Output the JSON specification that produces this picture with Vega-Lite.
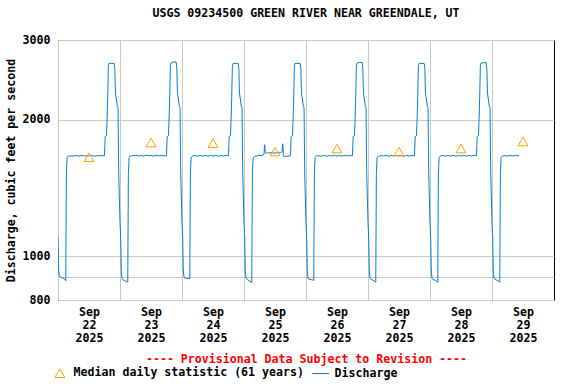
{
  "$schema": "https://vega.github.io/schema/vega-lite/v6.json",
  "width": 496,
  "height": 260,
  "autosize": "none",
  "padding": {"left": 58, "top": 40, "right": 22, "bottom": 84},
  "background": "#ffffff",
  "title": {"text": "USGS 09234500 GREEN RIVER NEAR GREENDALE, UT", "anchor": "middle", "frame": "group", "offset": 14, "font": "DejaVu Sans Mono", "fontSize": 11.6, "fontWeight": "bold", "color": "#000"},
  "config": {
    "font": "DejaVu Sans Mono",
    "view": {"stroke": "#000", "strokeWidth": 1},
    "axis": {"labelFont": "DejaVu Sans Mono", "labelFontSize": 11.6, "labelFontWeight": "bold", "labelColor": "#000", "titleFont": "DejaVu Sans Mono", "titleFontSize": 11.6, "titleFontWeight": "bold", "titleColor": "#000", "gridColor": "#c8c8c8", "gridWidth": 1, "gridOpacity": 1, "ticks": false, "domain": false},
    "legend": {"labelFont": "DejaVu Sans Mono", "labelFontSize": 11.6, "labelFontWeight": "bold", "labelColor": "#000", "labelLimit": 0}
  },
  "datasets": {
    "flow": [
      {"time": "2025-09-22T00:00", "cfs": 1104}, {"time": "2025-09-22T00:15", "cfs": 932}, {"time": "2025-09-22T00:30", "cfs": 905}, {"time": "2025-09-22T00:45", "cfs": 900},
      {"time": "2025-09-22T01:00", "cfs": 899}, {"time": "2025-09-22T02:00", "cfs": 895}, {"time": "2025-09-22T02:30", "cfs": 890}, {"time": "2025-09-22T03:00", "cfs": 882},
      {"time": "2025-09-22T03:15", "cfs": 1520}, {"time": "2025-09-22T03:30", "cfs": 1645}, {"time": "2025-09-22T03:45", "cfs": 1658}, {"time": "2025-09-22T04:00", "cfs": 1662},
      {"time": "2025-09-22T05:00", "cfs": 1665}, {"time": "2025-09-22T06:00", "cfs": 1663}, {"time": "2025-09-22T07:00", "cfs": 1667}, {"time": "2025-09-22T08:00", "cfs": 1662},
      {"time": "2025-09-22T09:00", "cfs": 1668}, {"time": "2025-09-22T10:00", "cfs": 1664}, {"time": "2025-09-22T11:00", "cfs": 1667}, {"time": "2025-09-22T12:00", "cfs": 1663},
      {"time": "2025-09-22T13:00", "cfs": 1668}, {"time": "2025-09-22T14:00", "cfs": 1662}, {"time": "2025-09-22T15:00", "cfs": 1667}, {"time": "2025-09-22T16:00", "cfs": 1664},
      {"time": "2025-09-22T17:00", "cfs": 1668}, {"time": "2025-09-22T18:00", "cfs": 1665}, {"time": "2025-09-22T18:15", "cfs": 1835}, {"time": "2025-09-22T18:45", "cfs": 1842},
      {"time": "2025-09-22T19:00", "cfs": 2000}, {"time": "2025-09-22T19:15", "cfs": 2250}, {"time": "2025-09-22T19:30", "cfs": 2630}, {"time": "2025-09-22T19:45", "cfs": 2662},
      {"time": "2025-09-22T20:30", "cfs": 2665}, {"time": "2025-09-22T21:45", "cfs": 2662}, {"time": "2025-09-22T22:00", "cfs": 2600}, {"time": "2025-09-22T22:15", "cfs": 2290},
      {"time": "2025-09-22T23:00", "cfs": 2137}, {"time": "2025-09-22T23:15", "cfs": 2125}, {"time": "2025-09-22T23:30", "cfs": 1523}, {"time": "2025-09-22T23:45", "cfs": 1350},

      {"time": "2025-09-23T00:00", "cfs": 1181}, {"time": "2025-09-23T00:15", "cfs": 1104}, {"time": "2025-09-23T00:30", "cfs": 932}, {"time": "2025-09-23T00:45", "cfs": 893},
      {"time": "2025-09-23T01:00", "cfs": 888}, {"time": "2025-09-23T02:00", "cfs": 882}, {"time": "2025-09-23T02:45", "cfs": 878}, {"time": "2025-09-23T03:00", "cfs": 877},
      {"time": "2025-09-23T03:15", "cfs": 1520}, {"time": "2025-09-23T03:30", "cfs": 1645}, {"time": "2025-09-23T03:45", "cfs": 1658}, {"time": "2025-09-23T04:00", "cfs": 1663},
      {"time": "2025-09-23T05:00", "cfs": 1666}, {"time": "2025-09-23T06:00", "cfs": 1670}, {"time": "2025-09-23T07:00", "cfs": 1664}, {"time": "2025-09-23T08:00", "cfs": 1668},
      {"time": "2025-09-23T09:00", "cfs": 1663}, {"time": "2025-09-23T10:00", "cfs": 1670}, {"time": "2025-09-23T11:00", "cfs": 1665}, {"time": "2025-09-23T12:00", "cfs": 1668},
      {"time": "2025-09-23T13:00", "cfs": 1663}, {"time": "2025-09-23T14:00", "cfs": 1669}, {"time": "2025-09-23T15:00", "cfs": 1665}, {"time": "2025-09-23T16:00", "cfs": 1668},
      {"time": "2025-09-23T17:00", "cfs": 1664}, {"time": "2025-09-23T18:00", "cfs": 1666}, {"time": "2025-09-23T18:15", "cfs": 1835}, {"time": "2025-09-23T18:45", "cfs": 1845},
      {"time": "2025-09-23T19:00", "cfs": 2010}, {"time": "2025-09-23T19:15", "cfs": 2260}, {"time": "2025-09-23T19:30", "cfs": 2640}, {"time": "2025-09-23T19:45", "cfs": 2670},
      {"time": "2025-09-23T20:45", "cfs": 2685}, {"time": "2025-09-23T21:45", "cfs": 2680}, {"time": "2025-09-23T22:00", "cfs": 2600}, {"time": "2025-09-23T22:15", "cfs": 2295},
      {"time": "2025-09-23T23:00", "cfs": 2140}, {"time": "2025-09-23T23:15", "cfs": 2125}, {"time": "2025-09-23T23:30", "cfs": 1523}, {"time": "2025-09-23T23:45", "cfs": 1350},

      {"time": "2025-09-24T00:00", "cfs": 1181}, {"time": "2025-09-24T00:15", "cfs": 1104}, {"time": "2025-09-24T00:30", "cfs": 932}, {"time": "2025-09-24T00:45", "cfs": 900},
      {"time": "2025-09-24T01:00", "cfs": 895}, {"time": "2025-09-24T02:00", "cfs": 893}, {"time": "2025-09-24T02:45", "cfs": 893}, {"time": "2025-09-24T03:00", "cfs": 892},
      {"time": "2025-09-24T03:15", "cfs": 1520}, {"time": "2025-09-24T03:30", "cfs": 1645}, {"time": "2025-09-24T03:45", "cfs": 1657}, {"time": "2025-09-24T04:00", "cfs": 1662},
      {"time": "2025-09-24T05:00", "cfs": 1667}, {"time": "2025-09-24T06:00", "cfs": 1662}, {"time": "2025-09-24T07:00", "cfs": 1668}, {"time": "2025-09-24T08:00", "cfs": 1663},
      {"time": "2025-09-24T09:00", "cfs": 1669}, {"time": "2025-09-24T10:00", "cfs": 1662}, {"time": "2025-09-24T11:00", "cfs": 1668}, {"time": "2025-09-24T12:00", "cfs": 1663},
      {"time": "2025-09-24T13:00", "cfs": 1669}, {"time": "2025-09-24T14:00", "cfs": 1662}, {"time": "2025-09-24T15:00", "cfs": 1668}, {"time": "2025-09-24T16:00", "cfs": 1663},
      {"time": "2025-09-24T17:00", "cfs": 1669}, {"time": "2025-09-24T18:00", "cfs": 1665}, {"time": "2025-09-24T18:15", "cfs": 1835}, {"time": "2025-09-24T18:45", "cfs": 1842},
      {"time": "2025-09-24T19:00", "cfs": 2000}, {"time": "2025-09-24T19:15", "cfs": 2250}, {"time": "2025-09-24T19:30", "cfs": 2630}, {"time": "2025-09-24T19:45", "cfs": 2662},
      {"time": "2025-09-24T20:30", "cfs": 2666}, {"time": "2025-09-24T21:45", "cfs": 2662}, {"time": "2025-09-24T22:00", "cfs": 2600}, {"time": "2025-09-24T22:15", "cfs": 2290},
      {"time": "2025-09-24T23:00", "cfs": 2137}, {"time": "2025-09-24T23:15", "cfs": 2125}, {"time": "2025-09-24T23:30", "cfs": 1523}, {"time": "2025-09-24T23:45", "cfs": 1350},

      {"time": "2025-09-25T00:00", "cfs": 1181}, {"time": "2025-09-25T00:15", "cfs": 1104}, {"time": "2025-09-25T00:30", "cfs": 932}, {"time": "2025-09-25T00:45", "cfs": 895},
      {"time": "2025-09-25T01:00", "cfs": 890}, {"time": "2025-09-25T02:00", "cfs": 882}, {"time": "2025-09-25T02:45", "cfs": 876}, {"time": "2025-09-25T03:00", "cfs": 874},
      {"time": "2025-09-25T03:15", "cfs": 1520}, {"time": "2025-09-25T03:30", "cfs": 1640}, {"time": "2025-09-25T03:45", "cfs": 1655}, {"time": "2025-09-25T04:00", "cfs": 1660},
      {"time": "2025-09-25T05:00", "cfs": 1665}, {"time": "2025-09-25T06:00", "cfs": 1668}, {"time": "2025-09-25T07:00", "cfs": 1666}, {"time": "2025-09-25T07:45", "cfs": 1680},
      {"time": "2025-09-25T08:00", "cfs": 1761}, {"time": "2025-09-25T08:15", "cfs": 1690}, {"time": "2025-09-25T09:00", "cfs": 1688}, {"time": "2025-09-25T10:00", "cfs": 1692},
      {"time": "2025-09-25T11:00", "cfs": 1690}, {"time": "2025-09-25T12:00", "cfs": 1688}, {"time": "2025-09-25T13:00", "cfs": 1692}, {"time": "2025-09-25T14:00", "cfs": 1690},
      {"time": "2025-09-25T14:45", "cfs": 1700}, {"time": "2025-09-25T15:00", "cfs": 1770}, {"time": "2025-09-25T15:15", "cfs": 1665}, {"time": "2025-09-25T16:00", "cfs": 1660},
      {"time": "2025-09-25T17:00", "cfs": 1662}, {"time": "2025-09-25T18:00", "cfs": 1665}, {"time": "2025-09-25T18:15", "cfs": 1835}, {"time": "2025-09-25T18:45", "cfs": 1842},
      {"time": "2025-09-25T19:00", "cfs": 2000}, {"time": "2025-09-25T19:15", "cfs": 2250}, {"time": "2025-09-25T19:30", "cfs": 2630}, {"time": "2025-09-25T19:45", "cfs": 2662},
      {"time": "2025-09-25T20:30", "cfs": 2665}, {"time": "2025-09-25T21:45", "cfs": 2662}, {"time": "2025-09-25T22:00", "cfs": 2600}, {"time": "2025-09-25T22:15", "cfs": 2290},
      {"time": "2025-09-25T23:00", "cfs": 2137}, {"time": "2025-09-25T23:15", "cfs": 2125}, {"time": "2025-09-25T23:30", "cfs": 1523}, {"time": "2025-09-25T23:45", "cfs": 1350},

      {"time": "2025-09-26T00:00", "cfs": 1181}, {"time": "2025-09-26T00:15", "cfs": 1104}, {"time": "2025-09-26T00:30", "cfs": 932}, {"time": "2025-09-26T00:45", "cfs": 895},
      {"time": "2025-09-26T01:00", "cfs": 890}, {"time": "2025-09-26T02:00", "cfs": 887}, {"time": "2025-09-26T02:45", "cfs": 885}, {"time": "2025-09-26T03:00", "cfs": 884},
      {"time": "2025-09-26T03:15", "cfs": 1520}, {"time": "2025-09-26T03:30", "cfs": 1645}, {"time": "2025-09-26T03:45", "cfs": 1658}, {"time": "2025-09-26T04:00", "cfs": 1663},
      {"time": "2025-09-26T05:00", "cfs": 1666}, {"time": "2025-09-26T06:00", "cfs": 1662}, {"time": "2025-09-26T07:00", "cfs": 1668}, {"time": "2025-09-26T08:00", "cfs": 1660},
      {"time": "2025-09-26T09:00", "cfs": 1668}, {"time": "2025-09-26T10:00", "cfs": 1663}, {"time": "2025-09-26T11:00", "cfs": 1669}, {"time": "2025-09-26T12:00", "cfs": 1662},
      {"time": "2025-09-26T13:00", "cfs": 1668}, {"time": "2025-09-26T14:00", "cfs": 1663}, {"time": "2025-09-26T15:00", "cfs": 1669}, {"time": "2025-09-26T16:00", "cfs": 1664},
      {"time": "2025-09-26T17:00", "cfs": 1667}, {"time": "2025-09-26T18:00", "cfs": 1665}, {"time": "2025-09-26T18:15", "cfs": 1835}, {"time": "2025-09-26T18:45", "cfs": 1845},
      {"time": "2025-09-26T19:00", "cfs": 2005}, {"time": "2025-09-26T19:15", "cfs": 2255}, {"time": "2025-09-26T19:30", "cfs": 2640}, {"time": "2025-09-26T19:45", "cfs": 2668},
      {"time": "2025-09-26T20:45", "cfs": 2678}, {"time": "2025-09-26T21:45", "cfs": 2675}, {"time": "2025-09-26T22:00", "cfs": 2600}, {"time": "2025-09-26T22:15", "cfs": 2290},
      {"time": "2025-09-26T23:00", "cfs": 2137}, {"time": "2025-09-26T23:15", "cfs": 2125}, {"time": "2025-09-26T23:30", "cfs": 1523}, {"time": "2025-09-26T23:45", "cfs": 1350},

      {"time": "2025-09-27T00:00", "cfs": 1181}, {"time": "2025-09-27T00:15", "cfs": 1104}, {"time": "2025-09-27T00:30", "cfs": 932}, {"time": "2025-09-27T00:45", "cfs": 895},
      {"time": "2025-09-27T01:00", "cfs": 890}, {"time": "2025-09-27T02:00", "cfs": 884}, {"time": "2025-09-27T02:45", "cfs": 878}, {"time": "2025-09-27T03:00", "cfs": 876},
      {"time": "2025-09-27T03:15", "cfs": 1520}, {"time": "2025-09-27T03:30", "cfs": 1645}, {"time": "2025-09-27T03:45", "cfs": 1658}, {"time": "2025-09-27T04:00", "cfs": 1662},
      {"time": "2025-09-27T05:00", "cfs": 1667}, {"time": "2025-09-27T06:00", "cfs": 1663}, {"time": "2025-09-27T07:00", "cfs": 1668}, {"time": "2025-09-27T08:00", "cfs": 1662},
      {"time": "2025-09-27T09:00", "cfs": 1667}, {"time": "2025-09-27T10:00", "cfs": 1664}, {"time": "2025-09-27T11:00", "cfs": 1668}, {"time": "2025-09-27T12:00", "cfs": 1663},
      {"time": "2025-09-27T13:00", "cfs": 1667}, {"time": "2025-09-27T14:00", "cfs": 1662}, {"time": "2025-09-27T15:00", "cfs": 1668}, {"time": "2025-09-27T16:00", "cfs": 1664},
      {"time": "2025-09-27T17:00", "cfs": 1667}, {"time": "2025-09-27T18:00", "cfs": 1665}, {"time": "2025-09-27T18:15", "cfs": 1835}, {"time": "2025-09-27T18:45", "cfs": 1842},
      {"time": "2025-09-27T19:00", "cfs": 2000}, {"time": "2025-09-27T19:15", "cfs": 2250}, {"time": "2025-09-27T19:30", "cfs": 2630}, {"time": "2025-09-27T19:45", "cfs": 2662},
      {"time": "2025-09-27T20:30", "cfs": 2665}, {"time": "2025-09-27T21:45", "cfs": 2662}, {"time": "2025-09-27T22:00", "cfs": 2600}, {"time": "2025-09-27T22:15", "cfs": 2290},
      {"time": "2025-09-27T23:00", "cfs": 2137}, {"time": "2025-09-27T23:15", "cfs": 2125}, {"time": "2025-09-27T23:30", "cfs": 1523}, {"time": "2025-09-27T23:45", "cfs": 1350},

      {"time": "2025-09-28T00:00", "cfs": 1181}, {"time": "2025-09-28T00:15", "cfs": 1104}, {"time": "2025-09-28T00:30", "cfs": 932}, {"time": "2025-09-28T00:45", "cfs": 895},
      {"time": "2025-09-28T01:00", "cfs": 890}, {"time": "2025-09-28T02:00", "cfs": 884}, {"time": "2025-09-28T02:45", "cfs": 878}, {"time": "2025-09-28T03:00", "cfs": 876},
      {"time": "2025-09-28T03:15", "cfs": 1520}, {"time": "2025-09-28T03:30", "cfs": 1645}, {"time": "2025-09-28T03:45", "cfs": 1658}, {"time": "2025-09-28T04:00", "cfs": 1663},
      {"time": "2025-09-28T05:00", "cfs": 1667}, {"time": "2025-09-28T06:00", "cfs": 1662}, {"time": "2025-09-28T07:00", "cfs": 1668}, {"time": "2025-09-28T08:00", "cfs": 1663},
      {"time": "2025-09-28T09:00", "cfs": 1669}, {"time": "2025-09-28T10:00", "cfs": 1662}, {"time": "2025-09-28T11:00", "cfs": 1668}, {"time": "2025-09-28T12:00", "cfs": 1664},
      {"time": "2025-09-28T13:00", "cfs": 1668}, {"time": "2025-09-28T14:00", "cfs": 1662}, {"time": "2025-09-28T15:00", "cfs": 1669}, {"time": "2025-09-28T16:00", "cfs": 1663},
      {"time": "2025-09-28T17:00", "cfs": 1668}, {"time": "2025-09-28T18:00", "cfs": 1665}, {"time": "2025-09-28T18:15", "cfs": 1835}, {"time": "2025-09-28T18:45", "cfs": 1845},
      {"time": "2025-09-28T19:00", "cfs": 2005}, {"time": "2025-09-28T19:15", "cfs": 2255}, {"time": "2025-09-28T19:30", "cfs": 2640}, {"time": "2025-09-28T19:45", "cfs": 2668},
      {"time": "2025-09-28T20:45", "cfs": 2672}, {"time": "2025-09-28T21:45", "cfs": 2675}, {"time": "2025-09-28T22:00", "cfs": 2600}, {"time": "2025-09-28T22:15", "cfs": 2290},
      {"time": "2025-09-28T23:00", "cfs": 2137}, {"time": "2025-09-28T23:15", "cfs": 2125}, {"time": "2025-09-28T23:30", "cfs": 1523}, {"time": "2025-09-28T23:45", "cfs": 1350},

      {"time": "2025-09-29T00:00", "cfs": 1181}, {"time": "2025-09-29T00:15", "cfs": 1104}, {"time": "2025-09-29T00:30", "cfs": 932}, {"time": "2025-09-29T00:45", "cfs": 895},
      {"time": "2025-09-29T01:00", "cfs": 890}, {"time": "2025-09-29T02:00", "cfs": 884}, {"time": "2025-09-29T02:45", "cfs": 878}, {"time": "2025-09-29T03:00", "cfs": 876},
      {"time": "2025-09-29T03:15", "cfs": 1520}, {"time": "2025-09-29T03:30", "cfs": 1645}, {"time": "2025-09-29T03:45", "cfs": 1658}, {"time": "2025-09-29T04:00", "cfs": 1663},
      {"time": "2025-09-29T05:00", "cfs": 1667}, {"time": "2025-09-29T06:00", "cfs": 1663}, {"time": "2025-09-29T07:00", "cfs": 1668}, {"time": "2025-09-29T08:00", "cfs": 1664},
      {"time": "2025-09-29T09:00", "cfs": 1668}, {"time": "2025-09-29T10:00", "cfs": 1665}, {"time": "2025-09-29T10:30", "cfs": 1670}
    ],
    "median": [
      {"time": "2025-09-22T12:00", "cfs": 1653},
      {"time": "2025-09-23T12:00", "cfs": 1782},
      {"time": "2025-09-24T12:00", "cfs": 1775},
      {"time": "2025-09-25T12:00", "cfs": 1702},
      {"time": "2025-09-26T12:00", "cfs": 1728},
      {"time": "2025-09-27T12:00", "cfs": 1702},
      {"time": "2025-09-28T12:00", "cfs": 1728},
      {"time": "2025-09-29T12:00", "cfs": 1791}
    ]
  },
  "encoding": {
    "x": {
      "field": "time", "type": "temporal",
      "scale": {"domain": [{"year": 2025, "month": "sep", "date": 22}, {"year": 2025, "month": "sep", "date": 30}], "nice": false},
      "axis": {
        "title": "---- Provisional Data Subject to Revision ----",
        "titleColor": "#ff0000",
        "titlePadding": 10,
        "values": [
          {"year": 2025, "month": "sep", "date": 22}, {"year": 2025, "month": "sep", "date": 23},
          {"year": 2025, "month": "sep", "date": 24}, {"year": 2025, "month": "sep", "date": 25},
          {"year": 2025, "month": "sep", "date": 26}, {"year": 2025, "month": "sep", "date": 27},
          {"year": 2025, "month": "sep", "date": 28}, {"year": 2025, "month": "sep", "date": 29}
        ],
        "labelExpr": "[timeFormat(datum.value, '%b'), timeFormat(datum.value, '%d'), timeFormat(datum.value, '%Y')]",
        "labelOffset": 31,
        "labelPadding": 6,
        "labelLineHeight": 13,
        "labelAlign": "center",
        "labelFlush": false,
        "labelOverlap": false,
        "grid": true
      }
    },
    "y": {
      "field": "cfs", "type": "quantitative",
      "scale": {"type": "log", "domain": [800, 3000], "nice": false},
      "axis": {
        "title": "Discharge, cubic feet per second",
        "titlePadding": 6,
        "values": [800, 900, 1000, 2000, 3000],
        "labelExpr": "datum.value == 900 ? '' : format(datum.value, 'd')",
        "labelPadding": 8,
        "grid": true
      }
    }
  },
  "layer": [
    {
      "data": {"name": "flow"},
      "mark": {"type": "line", "strokeWidth": 1, "clip": true},
      "encoding": {
        "color": {
          "datum": "Discharge",
          "scale": {"domain": ["Median daily statistic (61 years)", "Discharge"], "range": ["#ffa000", "#0a7ccc"]},
          "legend": {
            "title": null,
            "orient": "none",
            "legendX": -4,
            "legendY": 327,
            "direction": "horizontal",
            "columnPadding": 6,
            "labelOffset": 8,
            "symbolSize": 120,
            "symbolStrokeWidth": 1,
            "encode": {
              "symbols": {
                "update": {
                  "shape": {"signal": "datum.value == 'Discharge' ? 'stroke' : 'triangle-up'"},
                  "fill": {"value": "transparent"},
                  "stroke": {"signal": "datum.value == 'Discharge' ? '#0a7ccc' : '#ffa000'"},
                  "opacity": {"value": 1},
                  "strokeOpacity": {"value": 1},
                  "strokeWidth": {"value": 1},
                  "size": {"signal": "datum.value == 'Discharge' ? 290 : 100"}
                }
              }
            }
          }
        }
      }
    },
    {
      "data": {"name": "median"},
      "mark": {"type": "point", "shape": "triangle-up", "filled": false, "size": 100, "strokeWidth": 1, "opacity": 1},
      "encoding": {
        "color": {"datum": "Median daily statistic (61 years)"}
      }
    }
  ]
}
